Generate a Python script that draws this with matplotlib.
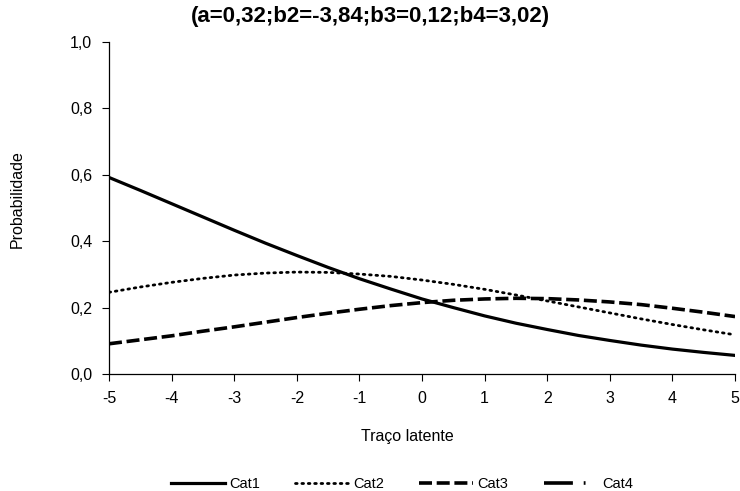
import matplotlib
matplotlib.use("Agg")
import matplotlib.pyplot as plt
from matplotlib.lines import Line2D
from matplotlib.ticker import FuncFormatter

plt.rcParams['font.family'] = ['Liberation Sans', 'DejaVu Sans']
plt.rcParams['axes.unicode_minus'] = False

theta = [-5, -4.5, -4, -3.5, -3, -2.5, -2, -1.5, -1, -0.5, 0, 0.5, 1, 1.5, 2, 2.5, 3, 3.5, 4, 4.5, 5]
cat1 = [0.592, 0.553, 0.513, 0.473, 0.433, 0.394, 0.357, 0.321, 0.287, 0.256, 0.226,
        0.200, 0.175, 0.153, 0.134, 0.116, 0.101, 0.087, 0.075, 0.065, 0.056]
cat2 = [0.246, 0.262, 0.276, 0.288, 0.298, 0.304, 0.307, 0.306, 0.301, 0.294, 0.283,
        0.270, 0.255, 0.238, 0.220, 0.202, 0.184, 0.166, 0.149, 0.133, 0.118]
cat3 = [0.091, 0.103, 0.115, 0.129, 0.142, 0.156, 0.170, 0.183, 0.195, 0.206, 0.215,
        0.222, 0.226, 0.228, 0.227, 0.223, 0.217, 0.209, 0.198, 0.186, 0.173]
labels = ['Cat1', 'Cat2', 'Cat3', 'Cat4']
title = '(a=0,32;b2=-3,84;b3=0,12;b4=3,02)'

fig = plt.figure(figsize=(7.4, 4.91), dpi=100)
ax = fig.add_axes([0.1473, 0.2383, 0.8460, 0.6762])

ls1 = '-'
ls2 = (0, (0.6, 1.7))
ls3 = (0, (3.6, 1.3))
ls4 = (0, (8, 3, 0.5, 10))

ax.plot(theta, cat1, color='black', lw=2.3, ls=ls1)
ax.plot(theta, cat2, color='black', lw=2.0, ls=ls2, dash_capstyle='round')
ax.plot(theta, cat3, color='black', lw=2.6, ls=ls3, dash_capstyle='butt')

ax.set_xlim(-5, 5)
ax.set_ylim(0, 1.0)
ax.set_xticks(range(-5, 6))
ax.set_yticks([0, 0.2, 0.4, 0.6, 0.8, 1.0])
ax.yaxis.set_major_formatter(FuncFormatter(lambda v, p: f"{v:.1f}".replace('.', ',')))
ax.tick_params(direction='out', length=5, width=0.8, labelsize=11.5, colors='black', pad=7)
for s in ['top', 'right']:
    ax.spines[s].set_visible(False)
for s in ['left', 'bottom']:
    ax.spines[s].set_linewidth(0.9)

fig.text(0.551, 0.110, 'Traço latente', ha='center', va='center', fontsize=11.5)
fig.text(0.023, 0.595, 'Probabilidade', ha='center', va='center', rotation=90, fontsize=11.5)
fig.text(0.501, 0.967, title, ha='center', va='center', fontsize=16, fontweight='bold')

handles = [
    Line2D([], [], color='black', lw=2.3, ls=ls1),
    Line2D([], [], color='black', lw=2.0, ls=ls2, dash_capstyle='round'),
    Line2D([], [], color='black', lw=2.6, ls=ls3),
    Line2D([], [], color='black', lw=2.6, ls=ls4),
]
fig.legend(handles, labels, loc='center', bbox_to_anchor=(0.543, 0.014), ncol=4,
           frameon=False, fontsize=10.5, handlelength=3.7, handletextpad=0.3,
           columnspacing=2.4)

fig.savefig('out.png', dpi=100)
